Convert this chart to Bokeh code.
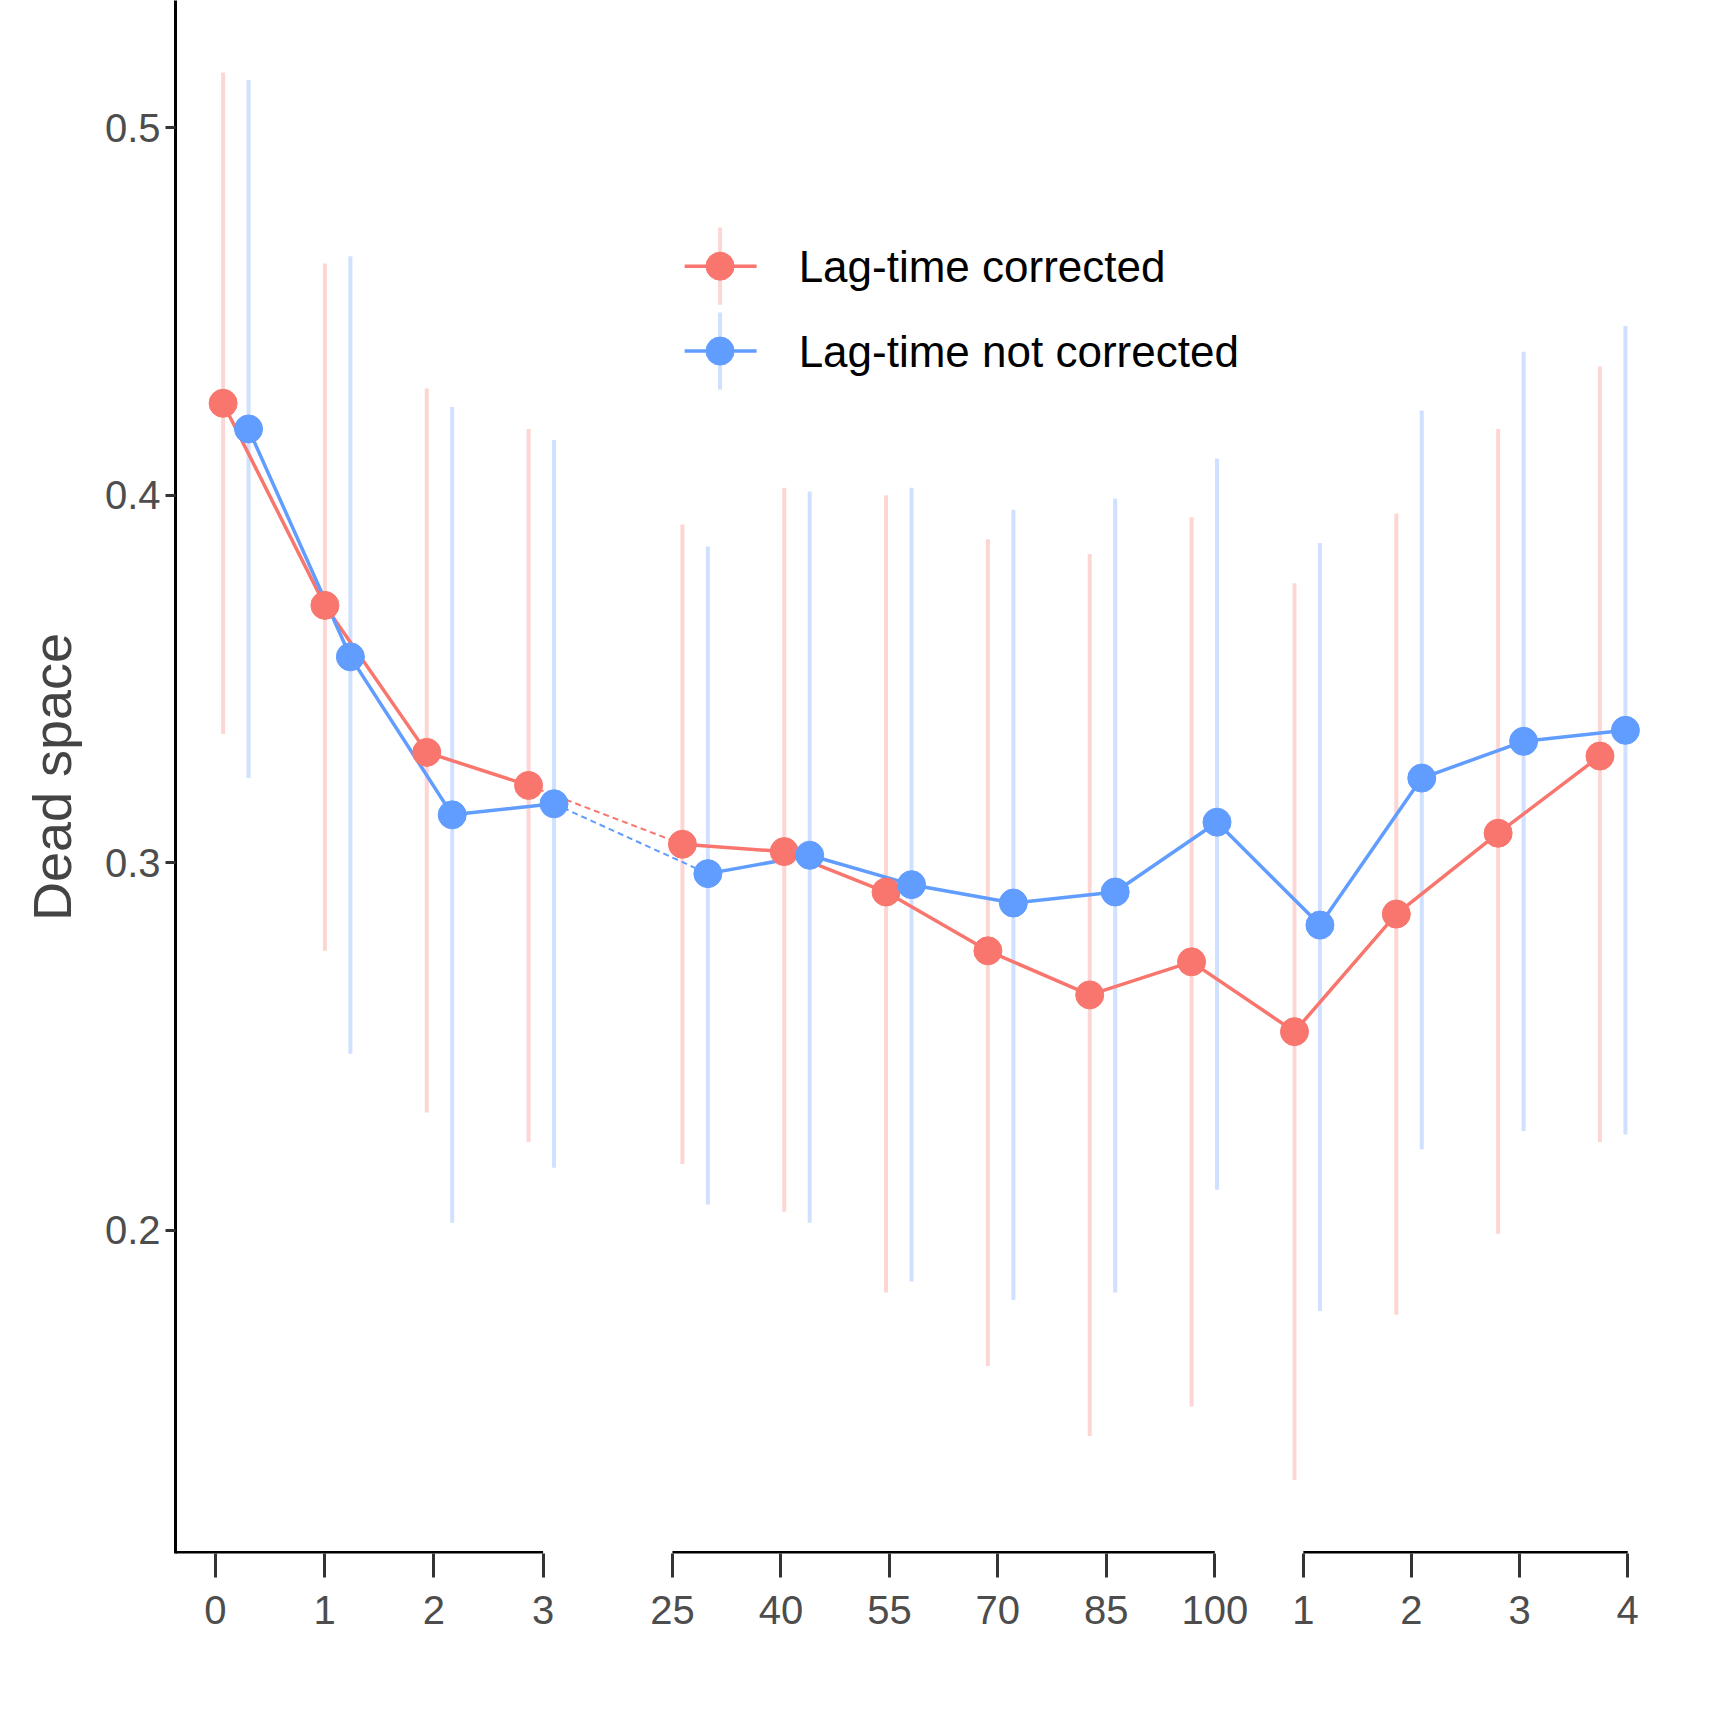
from bokeh.plotting import figure
from bokeh.models import FixedTicker, Label, Range1d
from bokeh.embed import file_html
from bokeh.resources import INLINE

# ---- data ----
warm_labels = ["0", "1", "2", "3"]
load_labels = ["25", "40", "55", "70", "85", "100"]
rec_labels = ["1", "2", "3", "4"]

red_mean = [0.425, 0.370, 0.330, 0.321, 0.305, 0.303, 0.292, 0.276, 0.264, 0.273, 0.254, 0.286, 0.308, 0.329]
red_lo = [0.335, 0.276, 0.232, 0.224, 0.218, 0.205, 0.183, 0.163, 0.144, 0.152, 0.132, 0.177, 0.199, 0.224]
red_hi = [0.515, 0.463, 0.429, 0.418, 0.392, 0.402, 0.400, 0.388, 0.384, 0.394, 0.376, 0.395, 0.418, 0.435]
blue_mean = [0.418, 0.356, 0.313, 0.316, 0.297, 0.302, 0.294, 0.289, 0.292, 0.311, 0.283, 0.323, 0.333, 0.336]
blue_lo = [0.323, 0.248, 0.202, 0.217, 0.207, 0.202, 0.186, 0.181, 0.183, 0.211, 0.178, 0.222, 0.227, 0.226]
blue_hi = [0.513, 0.465, 0.424, 0.415, 0.386, 0.401, 0.402, 0.396, 0.399, 0.410, 0.387, 0.423, 0.439, 0.446]

RED = "#F8766D"
BLUE = "#619CFF"

# ---- layout (x in reference-pixel units) ----
seg_tick_start = [201, 614, 1184]
seg_tick_step = [98.7, 98.0, 97.7]
seg_pt_start = [208, 623, 1176]
pt_step = 92.0
dodge = 23.0
seg_lens = [len(warm_labels), len(load_labels), len(rec_labels)]
seg_labels = [warm_labels, load_labels, rec_labels]

tick_x, tick_lab, red_x = [], [], []
for s in range(3):
    for i in range(seg_lens[s]):
        tick_x.append(seg_tick_start[s] + i * seg_tick_step[s])
        tick_lab.append(seg_labels[s][i])
        red_x.append(seg_pt_start[s] + i * pt_step)
blue_x = [x + dodge for x in red_x]

Y0, Y1 = 0.112, 0.5346
p = figure(width=1720, height=1705, output_backend="svg", toolbar_location=None,
           x_range=Range1d(165, 1560), y_range=Range1d(Y0, Y1),
           min_border_left=175, min_border_right=1, min_border_top=0, min_border_bottom=152)
p.grid.visible = False
p.outline_line_color = None
p.background_fill_color = "white"

# y axis
p.yaxis.ticker = FixedTicker(ticks=[0.2, 0.3, 0.4, 0.5])
p.yaxis.axis_line_width = 3
p.yaxis.axis_line_color = "black"
p.yaxis.major_tick_line_width = 3
p.yaxis.major_tick_line_color = "#333333"
p.yaxis.major_tick_out = 10
p.yaxis.major_tick_in = 0
p.yaxis.minor_tick_line_color = None
p.yaxis.major_label_text_font_size = "40px"
p.yaxis.major_label_text_color = "#4D4D4D"
p.yaxis.major_label_text_font = "Liberation Sans"
p.yaxis.axis_label = "Dead space"
p.yaxis.axis_label_text_font_size = "54px"
p.yaxis.axis_label_text_font_style = "normal"
p.yaxis.axis_label_text_font = "Liberation Sans"
p.yaxis.axis_label_standoff = 20

# x axis
p.xaxis.ticker = FixedTicker(ticks=tick_x)
p.xaxis.major_label_overrides = {t: l for t, l in zip(tick_x, tick_lab)}
p.xaxis.axis_line_color = None
p.xaxis.major_tick_line_width = 3
p.xaxis.major_tick_line_color = "#333333"
p.xaxis.major_tick_out = 24
p.xaxis.major_tick_in = 0
p.xaxis.minor_tick_line_color = None
p.xaxis.major_label_text_font_size = "40px"
p.xaxis.major_label_text_color = "#4D4D4D"
p.xaxis.major_label_text_font = "Liberation Sans"
p.xaxis.major_label_standoff = 18

# bottom axis line pieces
seg_x0 = [165, seg_tick_start[1], seg_tick_start[2]]
seg_x1 = [seg_tick_start[s] + (seg_lens[s] - 1) * seg_tick_step[s] for s in range(3)]
p.segment(x0=seg_x0, y0=[Y0] * 3, x1=seg_x1, y1=[Y0] * 3, line_color="black", line_width=5)

# error bars
p.segment(x0=red_x, y0=red_lo, x1=red_x, y1=red_hi, line_color=RED, line_alpha=0.3, line_width=4)
p.segment(x0=blue_x, y0=blue_lo, x1=blue_x, y1=blue_hi, line_color=BLUE, line_alpha=0.3, line_width=4)

# lines: warm-up solid, dashed to load, load+recovery solid
nw = seg_lens[0]
for xs, ys, c in [(red_x, red_mean, RED), (blue_x, blue_mean, BLUE)]:
    p.line(xs[:nw], ys[:nw], line_color=c, line_width=3.5)
    p.line(xs[nw - 1:nw + 1], ys[nw - 1:nw + 1], line_color=c, line_width=2, line_dash="6 4")
    p.line(xs[nw:], ys[nw:], line_color=c, line_width=3.5)
p.scatter(red_x, red_mean, size=28, color=RED)
p.scatter(blue_x, blue_mean, size=28, color=BLUE)

# legend (manual)
leg_y = [0.4623, 0.4392]
leg_c = [RED, BLUE]
leg_t = ["Lag-time corrected", "Lag-time not corrected"]
for yy, c, t in zip(leg_y, leg_c, leg_t):
    p.segment(x0=[657], y0=[yy - 0.0105], x1=[657], y1=[yy + 0.0105], line_color=c, line_alpha=0.3, line_width=4)
    p.line([625, 690], [yy, yy], line_color=c, line_width=3.5)
    p.scatter([657], [yy], size=28, color=c)
    p.add_layout(Label(x=728, y=yy, text=t, text_font_size="44px", text_baseline="middle",
                       text_font="Liberation Sans", text_color="black"))

# axis titles
for xx, yy, t in [(327, 0.0768, "Warm-up time (min)"), (880, 0.0747, "Load (%max)"),
                  (1340, 0.0747, "Recovery time (min)")]:
    p.add_layout(Label(x=xx, y=yy, text=t, text_font_size="42px", text_font_style="bold",
                       text_align="center", text_baseline="middle",
                       text_font="Liberation Sans", text_color="black"))

open("out.html", "w").write(file_html(p, INLINE))
